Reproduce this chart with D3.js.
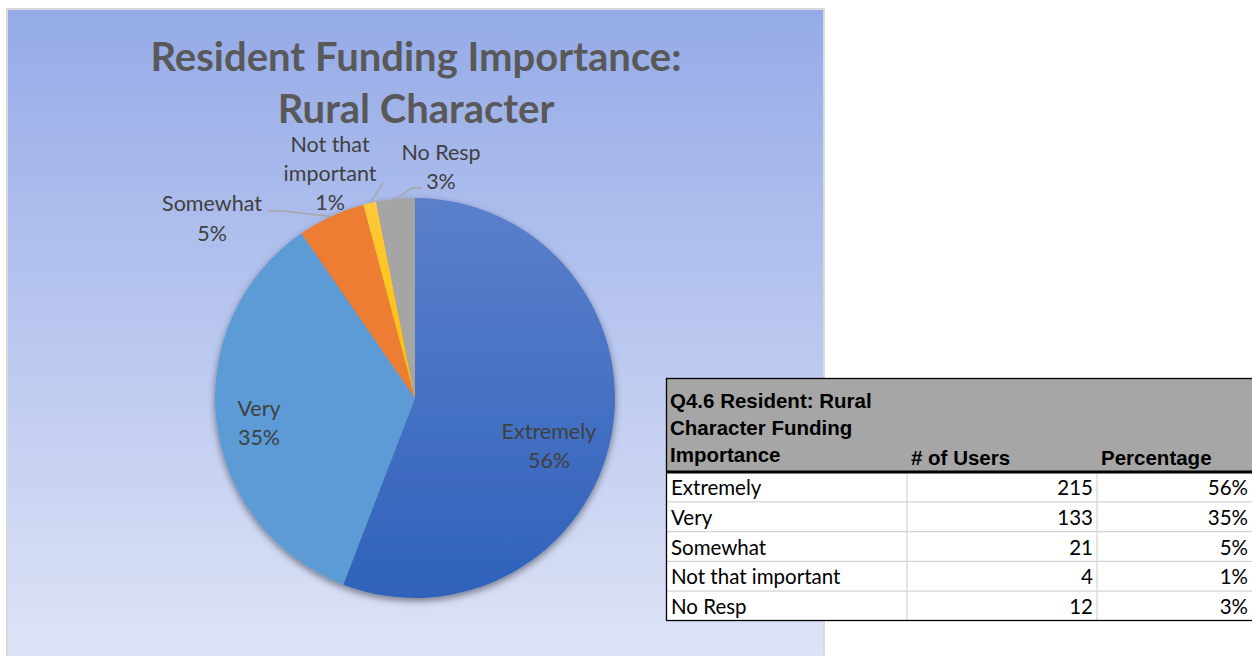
<!DOCTYPE html>
<html>
<head>
<meta charset="utf-8">
<script src="https://cdn.jsdelivr.net/npm/d3@7"></script>
<style>
  html, body { margin: 0; padding: 0; background: #ffffff; }
  svg { display: block; }
</style>
</head>
<body>
<svg id="chart" width="1252" height="656"></svg>
<script>
// Survey responses: Q4.6 Resident – Rural Character funding importance
const categories = ["Extremely", "Very", "Somewhat", "Not that important", "No Resp"];
const users = [215, 133, 21, 4, 12];
const sliceColors = ["#4472c4", "#5b9bd5", "#ed7d31", "#ffc000", "#a5a5a5"];
const titleLines = ["Resident Funding Importance:", "Rural Character"];
const tableHeaderLines = ["Q4.6 Resident: Rural", "Character Funding", "Importance"];
const tableColumns = ["# of Users", "Percentage"];

const total = d3.sum(users);
const pct = users.map(v => Math.round(v / total * 100));

const svg = d3.select("#chart");
const defs = svg.append("defs");

// ---- chart area background ----
const bg = defs.append("linearGradient").attr("id", "bgGrad")
  .attr("x1", 0).attr("y1", 0).attr("x2", 0).attr("y2", 1);
bg.append("stop").attr("offset", "0%").attr("stop-color", "#95abe8");
bg.append("stop").attr("offset", "100%").attr("stop-color", "#dfe4f6");

svg.append("rect")
  .attr("x", 7).attr("y", 9).attr("width", 817).attr("height", 660)
  .attr("fill", "url(#bgGrad)")
  .attr("stroke", "#d9d9d9").attr("stroke-width", 2);

// ---- title ----
const titleG = svg.append("g")
  .attr("font-family", "Lato, 'Open Sans', sans-serif")
  .attr("font-weight", "bold")
  .attr("font-size", 40)
  .attr("fill", "#595959")
  .attr("text-anchor", "middle");
titleLines.forEach((t, i) => {
  titleG.append("text").attr("x", 416).attr("y", 71 + i * 52).text(t);
});

// ---- pie ----
const cx = 415, cy = 398, r = 200;

const pie = d3.pie().sort(null).value(d => d.value);
const arcs = pie(categories.map((c, i) => ({ name: c, value: users[i], color: sliceColors[i], pct: pct[i] })));
const arc = d3.arc().innerRadius(0).outerRadius(r);

// the largest slice carries a vertical shading, the rest are flat fills
const g0 = defs.append("linearGradient").attr("id", "slice0")
  .attr("gradientUnits", "userSpaceOnUse")
  .attr("x1", 0).attr("y1", -r).attr("x2", 0).attr("y2", r);
g0.append("stop").attr("offset", "0%").attr("stop-color", "#5b80cb");
g0.append("stop").attr("offset", "100%").attr("stop-color", "#2f62bb");

const g3 = defs.append("linearGradient").attr("id", "slice3")
  .attr("gradientUnits", "userSpaceOnUse")
  .attr("x1", 0).attr("y1", -r).attr("x2", 0).attr("y2", 0);
g3.append("stop").attr("offset", "0%").attr("stop-color", "#ffc93a");
g3.append("stop").attr("offset", "100%").attr("stop-color", "#ffc000");

const fillFor = i => (i === 0 ? "url(#slice0)" : i === 3 ? "url(#slice3)" : sliceColors[i]);

const shadow = defs.append("filter").attr("id", "pieShadow")
  .attr("x", "-20%").attr("y", "-20%").attr("width", "140%").attr("height", "140%");
shadow.append("feDropShadow").attr("dx", 0).attr("dy", 3).attr("stdDeviation", 3.5)
  .attr("flood-color", "#000").attr("flood-opacity", 0.45);

const pieG = svg.append("g").attr("transform", `translate(${cx},${cy})`);
pieG.append("g").attr("filter", "url(#pieShadow)")
  .selectAll("path").data(arcs).join("path")
  .attr("d", arc)
  .attr("fill", (d, i) => fillFor(i))
  .attr("stroke", "none");

// ---- data labels ----
// label centre relative to pie centre, and leader-line route for outside labels
const labelLayout = {
  "Extremely":          { dx: 134, dy: 41, lines: ["Extremely"], gap: 29 },
  "Very":               { dx: -156, dy: 18, lines: ["Very"], gap: 29 },
  "Somewhat":           { dx: -203, dy: -187, lines: ["Somewhat"], gap: 30, leader: [[-147, -187], [-132, -187]] },
  "Not that important": { dx: -85, dy: -246, lines: ["Not that", "important"], gap: 29, leader: [[-32, -215]] },
  "No Resp":            { dx: 26, dy: -238, lines: ["No Resp"], gap: 29, leader: [[7, -210], [-3, -210]] }
};

const labelG = pieG.append("g")
  .attr("font-family", "Lato, 'Open Sans', sans-serif")
  .attr("font-size", 21.5)
  .attr("fill", "#404040")
  .attr("text-anchor", "middle");

arcs.forEach(a => {
  const L = labelLayout[a.data.name];
  if (L.leader) {
    const mid = (a.startAngle + a.endAngle) / 2;
    const edge = [Math.sin(mid) * r, -Math.cos(mid) * r];
    labelG.append("path")
      .attr("d", d3.line()([...L.leader, edge]))
      .attr("fill", "none")
      .attr("stroke", "#a6a6a6")
      .attr("stroke-width", 1.5);
  }
  const lines = [...L.lines, a.data.pct + "%"];
  lines.forEach((t, j) => {
    labelG.append("text")
      .attr("x", L.dx)
      .attr("y", L.dy + j * L.gap)
      .text(t);
  });
});

// ---- data table ----
const tx = 666, ty = 378;
const colX = [666, 907, 1097, 1253];
const headerH = 94, rowH = 29.8;
const tableG = svg.append("g");

tableG.append("rect")
  .attr("x", tx).attr("y", ty).attr("width", colX[3] - tx).attr("height", headerH)
  .attr("fill", "#a6a6a6");
tableG.append("rect")
  .attr("x", tx).attr("y", ty + headerH).attr("width", colX[3] - tx).attr("height", rowH * categories.length)
  .attr("fill", "#ffffff");

// inner grid
const bodyTop = ty + headerH;
categories.forEach((c, i) => {
  if (i > 0) {
    tableG.append("line")
      .attr("x1", tx).attr("x2", colX[3])
      .attr("y1", bodyTop + i * rowH).attr("y2", bodyTop + i * rowH)
      .attr("stroke", "#d4d4d4").attr("stroke-width", 1.2);
  }
});
[colX[1], colX[2]].forEach(x => {
  tableG.append("line")
    .attr("x1", x).attr("x2", x)
    .attr("y1", bodyTop).attr("y2", bodyTop + rowH * categories.length)
    .attr("stroke", "#d4d4d4").attr("stroke-width", 1.2);
});

// outer border and header rule
tableG.append("rect")
  .attr("x", tx + 0.5).attr("y", ty + 0.5)
  .attr("width", colX[3] - tx).attr("height", headerH + rowH * categories.length - 1)
  .attr("fill", "none").attr("stroke", "#000").attr("stroke-width", 1.3);
tableG.append("line")
  .attr("x1", tx).attr("x2", colX[3])
  .attr("y1", bodyTop).attr("y2", bodyTop)
  .attr("stroke", "#000").attr("stroke-width", 3);

// header text
const headG = tableG.append("g")
  .attr("font-family", "'Liberation Sans', Arial, sans-serif")
  .attr("font-weight", "bold")
  .attr("font-size", 20.5)
  .attr("fill", "#000");
tableHeaderLines.forEach((t, i) => {
  headG.append("text").attr("x", tx + 4).attr("y", ty + 30 + i * 27).text(t);
});
headG.append("text").attr("x", colX[1] + 4).attr("y", ty + 87).text(tableColumns[0]);
headG.append("text").attr("x", colX[2] + 4).attr("y", ty + 87).text(tableColumns[1]);

// body text
const bodyG = tableG.append("g")
  .attr("font-family", "Lato, 'Open Sans', sans-serif")
  .attr("font-size", 20.5)
  .attr("fill", "#000");
categories.forEach((c, i) => {
  const y = bodyTop + i * rowH + 23;
  bodyG.append("text").attr("x", tx + 5).attr("y", y).text(c);
  bodyG.append("text").attr("x", colX[2] - 4).attr("y", y).attr("text-anchor", "end").text(users[i]);
  bodyG.append("text").attr("x", colX[3] - 5).attr("y", y).attr("text-anchor", "end").text(pct[i] + "%");
});
</script>
</body>
</html>
